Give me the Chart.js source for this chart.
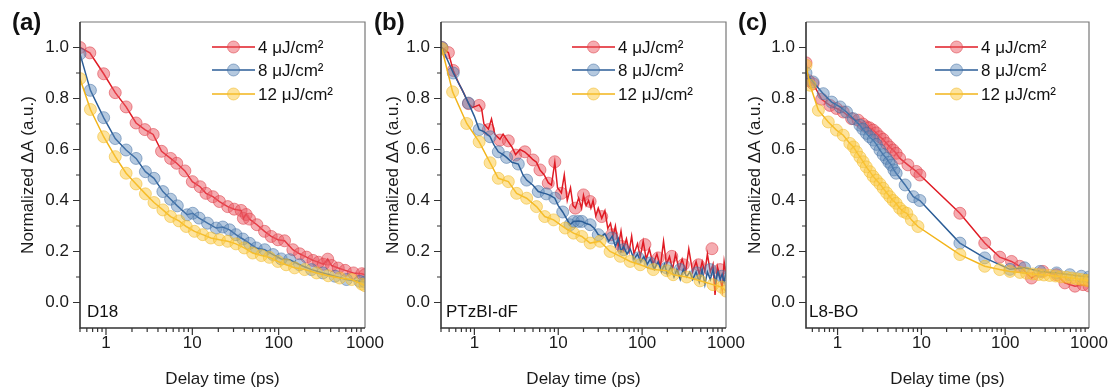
<!DOCTYPE html>
<html>
<head>
<meta charset="utf-8">
<script src="https://cdn.jsdelivr.net/npm/chart.js@4.4.1/dist/chart.umd.min.js"></script>
<style>
  html, body { margin: 0; padding: 0; background: #fff; }
  #wrap { position: relative; width: 1113px; height: 390px; overflow: hidden; }
  #wrap canvas { position: absolute; top: 0; }
</style>
</head>
<body>
<div id="wrap">
  <canvas id="ca" width="400" height="390" style="left:0px"></canvas>
  <canvas id="cb" width="400" height="390" style="left:370px"></canvas>
  <canvas id="cc" width="377" height="390" style="left:736px"></canvas>
</div>
<script>
// series labels + tick values
const LABELS = ['4 μJ/cm²', '8 μJ/cm²', '12 μJ/cm²'];
const X_TICKS = [1, 10, 100, 1000];
const Y_TICKS = [0, 0.2, 0.4, 0.6, 0.8, 1.0];
const Y_MINOR = [0.1, 0.3, 0.5, 0.7, 0.9];

// (a) D18
const a4x = [0.5, 0.65, 0.94, 1.28, 1.71, 2.23, 2.82, 3.52, 4.4, 5.6,
  6.6, 8.2, 10, 12.3, 14.4, 17.3, 20.6, 25.7, 30.6, 36.7,
  39, 42, 46, 56, 68.6, 82, 98, 117, 146, 175,
  210, 250, 290, 330, 370, 410, 490, 590, 735, 920, 1000];
const a4y = [1.0, 0.979, 0.897, 0.823, 0.767, 0.704, 0.678, 0.659, 0.593, 0.565,
  0.546, 0.516, 0.474, 0.454, 0.428, 0.415, 0.396, 0.376, 0.366, 0.361,
  0.33, 0.345, 0.327, 0.305, 0.279, 0.259, 0.246, 0.242, 0.207, 0.191,
  0.178, 0.165, 0.158, 0.15, 0.17, 0.145, 0.135, 0.126, 0.116, 0.113, 0.109];
const a8x = [0.5, 0.66, 0.94, 1.28, 1.71, 2.23, 2.86, 3.6, 4.56, 5.6,
  6.7, 8.7, 10.1, 12.0, 15, 18.9, 22.5, 27, 32, 38.5,
  46, 55, 69, 86, 107, 134, 175, 240, 325, 450,
  610, 870, 1000];
const a8y = [0.975, 0.832, 0.725, 0.643, 0.598, 0.565, 0.513, 0.487, 0.435, 0.405,
  0.379, 0.344, 0.35, 0.331, 0.311, 0.292, 0.296, 0.285, 0.266, 0.249,
  0.232, 0.214, 0.207, 0.188, 0.171, 0.168, 0.148, 0.129, 0.116, 0.103,
  0.09, 0.083, 0.08];
const a12x = [0.5, 0.66, 0.94, 1.28, 1.71, 2.23, 2.86, 3.6, 4.56, 5.6,
  7.0, 8.5, 10.6, 13.2, 16.4, 20.6, 25.7, 32, 40, 50,
  63, 78, 98, 122, 153, 200, 275, 375, 510, 700,
  920, 1000];
const a12y = [0.878, 0.757, 0.65, 0.572, 0.507, 0.465, 0.426, 0.392, 0.363, 0.337,
  0.32, 0.298, 0.279, 0.266, 0.253, 0.246, 0.24, 0.23, 0.214, 0.194,
  0.184, 0.177, 0.161, 0.148, 0.136, 0.129, 0.116, 0.105, 0.096, 0.09,
  0.072, 0.066];

// (b) PTzBI-dF  (markers + raw noisy traces)
const b4x = [0.41, 0.49, 0.56, 0.85, 1.14, 1.47, 2.02, 2.54, 3.1, 4.0,
  5.0, 6.05, 7.6, 9.1, 10.9, 16, 20, 24, 33, 43.5,
  57, 108, 156, 226, 310, 470, 680, 850];
const b4y = [1.0, 0.98, 0.91, 0.78, 0.773, 0.678, 0.637, 0.634, 0.578, 0.591,
  0.559, 0.52, 0.468, 0.552, 0.428, 0.37, 0.422, 0.396, 0.337, 0.266,
  0.22, 0.227, 0.175, 0.181, 0.148, 0.148, 0.211, 0.129];
const b4traceX = [0.41, 0.45, 0.49, 0.56, 0.65, 0.75, 0.85, 0.95, 1.05, 1.14,
  1.22, 1.3, 1.47, 1.6, 1.75, 2.02, 2.2, 2.54, 2.8, 3.1,
  3.5, 4.0, 4.5, 5.0, 5.5, 6.05, 6.8, 7.6, 8.3, 9.1,
  9.8, 10.9, 11.8, 12.8, 14, 15, 16, 17.5, 19, 20,
  21.5, 23, 24.5, 26, 28, 30, 33, 36, 39, 42,
  45, 48, 52, 56, 60, 65, 70, 75, 80, 88,
  95, 103, 112, 122, 135, 150, 165, 180, 195, 212,
  230, 250, 275, 300, 330, 360, 400, 440, 480, 520,
  560, 600, 650, 700, 740, 790, 850, 900, 950, 1000];
const b4traceY = [1.0, 0.99, 0.98, 0.91, 0.86, 0.82, 0.78, 0.765, 0.77, 0.775,
  0.76, 0.70, 0.68, 0.72, 0.66, 0.64, 0.66, 0.63, 0.61, 0.58,
  0.60, 0.59, 0.575, 0.56, 0.55, 0.52, 0.50, 0.47, 0.46, 0.55,
  0.45, 0.43, 0.50, 0.40, 0.45, 0.38, 0.37, 0.41, 0.37, 0.42,
  0.38, 0.40, 0.37, 0.40, 0.34, 0.37, 0.33, 0.36, 0.29, 0.31,
  0.26, 0.30, 0.22, 0.28, 0.21, 0.25, 0.20, 0.26, 0.19, 0.23,
  0.18, 0.24, 0.17, 0.21, 0.15, 0.19, 0.14, 0.24, 0.15, 0.18,
  0.13, 0.19, 0.13, 0.17, 0.12, 0.21, 0.12, 0.16, 0.11, 0.16,
  0.12, 0.19, 0.12, 0.15, 0.03, 0.14, 0.10, 0.05, 0.16, 0.11];
const b8x = [0.41, 0.56, 0.85, 1.14, 1.54, 1.93, 2.42, 3.34, 4.2, 5.78,
  7.2, 9.1, 11.3, 13.8, 15.2, 17.3, 19.1, 24, 30, 43.5,
  60, 90, 124, 196, 283, 450, 645, 890];
const b8y = [1.0, 0.90, 0.782, 0.678, 0.65, 0.591, 0.569, 0.543, 0.48, 0.435,
  0.426, 0.409, 0.355, 0.305, 0.318, 0.318, 0.318, 0.305, 0.266, 0.253,
  0.207, 0.175, 0.155, 0.136, 0.129, 0.116, 0.129, 0.103];
const b8traceX = [0.41, 0.56, 0.7, 0.85, 1.0, 1.14, 1.3, 1.54, 1.7, 1.93,
  2.2, 2.42, 2.8, 3.34, 3.8, 4.2, 5.0, 5.78, 6.5, 7.2,
  8.0, 9.1, 10, 11.3, 12.5, 13.8, 15.2, 17.3, 19.1, 21.5,
  24, 27, 30, 33, 36, 40, 44, 48, 52, 56,
  60, 66, 72, 80, 88, 96, 105, 115, 125, 140,
  155, 170, 185, 200, 220, 240, 260, 285, 310, 340,
  370, 400, 440, 480, 520, 560, 600, 650, 700, 750,
  800, 850, 900, 950, 1000];
const b8traceY = [1.0, 0.90, 0.84, 0.782, 0.73, 0.678, 0.67, 0.65, 0.62, 0.591,
  0.58, 0.569, 0.55, 0.543, 0.50, 0.48, 0.46, 0.435, 0.43, 0.426,
  0.42, 0.409, 0.38, 0.355, 0.33, 0.305, 0.318, 0.32, 0.318, 0.31,
  0.305, 0.29, 0.266, 0.26, 0.27, 0.24, 0.26, 0.22, 0.25, 0.20,
  0.22, 0.19, 0.21, 0.17, 0.19, 0.16, 0.18, 0.15, 0.17, 0.13,
  0.16, 0.12, 0.15, 0.11, 0.14, 0.10, 0.13, 0.09, 0.13, 0.10,
  0.12, 0.09, 0.12, 0.08, 0.13, 0.07, 0.12, 0.09, 0.13, 0.08,
  0.12, 0.09, 0.11, 0.08, 0.12];
const b12x = [0.41, 0.55, 0.81, 1.14, 1.54, 1.93, 2.54, 3.19, 4.2, 5.5,
  6.9, 8.8, 12.1, 15.2, 19.1, 24, 31.5, 41.5, 55, 72,
  95, 136, 196, 235, 340, 490, 700, 890, 1000];
const b12y = [0.995, 0.826, 0.702, 0.63, 0.548, 0.487, 0.474, 0.428, 0.409, 0.376,
  0.337, 0.324, 0.292, 0.272, 0.259, 0.233, 0.24, 0.2, 0.181, 0.161,
  0.148, 0.129, 0.125, 0.109, 0.10, 0.085, 0.07, 0.06, 0.045];

// (c) L8-BO
const c4x = [0.42, 0.45, 0.51, 0.645, 0.81, 0.97, 1.17, 1.47, 1.76, 2.0,
  2.21, 2.4, 2.66, 2.9, 3.2, 3.5, 3.83, 4.2, 4.6, 5.0,
  5.5, 6.9, 8.7, 9.6, 28.8, 57, 86, 119, 149, 206,
  282, 410, 515, 680, 850, 1000];
const c4y = [0.94, 0.87, 0.858, 0.797, 0.773, 0.761, 0.747, 0.721, 0.715, 0.70,
  0.689, 0.685, 0.676, 0.665, 0.65, 0.64, 0.624, 0.61, 0.598, 0.585,
  0.566, 0.54, 0.514, 0.50, 0.35, 0.233, 0.178, 0.161, 0.142, 0.096,
  0.122, 0.109, 0.077, 0.064, 0.07, 0.065];
const c8x = [0.42, 0.51, 0.675, 0.85, 1.07, 1.28, 1.54, 1.85, 2.0, 2.21,
  2.4, 2.66, 2.9, 3.2, 3.5, 3.83, 4.1, 4.4, 4.7, 5.0,
  6.4, 8.0, 9.6, 28.8, 57, 114, 170, 260, 410, 590,
  810, 1000];
const c8y = [0.90, 0.865, 0.819, 0.786, 0.767, 0.747, 0.721, 0.695, 0.68, 0.663,
  0.65, 0.637, 0.62, 0.598, 0.58, 0.565, 0.55, 0.539, 0.52, 0.507,
  0.461, 0.415, 0.40, 0.233, 0.175, 0.13, 0.136, 0.122, 0.116, 0.109,
  0.103, 0.10];
const c12x = [0.42, 0.47, 0.59, 0.775, 0.97, 1.17, 1.4, 1.55, 1.68, 1.85,
  2.02, 2.2, 2.43, 2.65, 2.9, 3.2, 3.5, 3.85, 4.2, 4.6,
  5.0, 5.5, 6.05, 6.7, 7.6, 9.1, 28.8, 57, 86, 114,
  150, 180, 214, 250, 290, 340, 400, 460, 540, 620,
  710, 810, 920, 1000];
const c12y = [0.93, 0.852, 0.754, 0.708, 0.676, 0.656, 0.624, 0.61, 0.591, 0.57,
  0.552, 0.532, 0.513, 0.495, 0.48, 0.465, 0.448, 0.43, 0.415, 0.40,
  0.389, 0.37, 0.357, 0.35, 0.324, 0.298, 0.188, 0.142, 0.129, 0.122,
  0.118, 0.115, 0.112, 0.11, 0.108, 0.106, 0.104, 0.101, 0.099, 0.096,
  0.093, 0.09, 0.087, 0.085];

const FONT = '"Liberation Sans", Arial, sans-serif';
const LINE_COLORS = ['#e01b24', '#2b5d97', '#f2b41a'];
const MARK_FILL = ['rgba(236,90,100,0.5)', 'rgba(90,135,185,0.45)', 'rgba(252,200,60,0.5)'];
const MARK_EDGE = ['rgba(220,60,70,0.55)', 'rgba(60,105,160,0.5)', 'rgba(240,185,40,0.55)'];
const ORDER = [3, 2, 1];

Chart.defaults.font.family = FONT;
Chart.defaults.font.size = 17;
Chart.defaults.color = '#1a1a1a';

const pts = (xs, ys) => xs.map((x, i) => ({ x, y: ys[i] }));

function markers(i, xs, ys, withLine) {
  return {
    label: LABELS[i],
    data: pts(xs, ys),
    showLine: withLine,
    borderColor: LINE_COLORS[i],
    borderWidth: 1.5,
    pointRadius: 6,
    pointBackgroundColor: MARK_FILL[i],
    pointBorderColor: MARK_EDGE[i],
    pointBorderWidth: 1,
    order: ORDER[i]
  };
}
function trace(i, xs, ys) {
  return {
    label: LABELS[i] + ' trace',
    data: pts(xs, ys),
    showLine: true,
    borderColor: LINE_COLORS[i],
    borderWidth: 1.5,
    pointRadius: 0,
    order: ORDER[i]
  };
}

// frame, ticks, legend, labels
const panelDecor = {
  id: 'panelDecor',
  afterDraw(chart, args, o) {
    const { ctx, chartArea: ar, scales: { x, y } } = chart;
    ctx.save();
    ctx.strokeStyle = '#777';
    ctx.lineWidth = 1.2;
    ctx.beginPath();
    ctx.moveTo(ar.left, ar.top); ctx.lineTo(ar.right, ar.top); ctx.lineTo(ar.right, ar.bottom);
    ctx.stroke();
    ctx.strokeStyle = '#333';
    ctx.lineWidth = 1.6;
    ctx.beginPath();
    ctx.moveTo(ar.left, ar.top); ctx.lineTo(ar.left, ar.bottom); ctx.lineTo(ar.right, ar.bottom);
    ctx.stroke();

    ctx.lineWidth = 1.2;
    ctx.beginPath();
    Y_TICKS.forEach(v => { const p = y.getPixelForValue(v); ctx.moveTo(ar.left - 7, p); ctx.lineTo(ar.left, p); });
    Y_MINOR.forEach(v => { const p = y.getPixelForValue(v); ctx.moveTo(ar.left - 4, p); ctx.lineTo(ar.left, p); });
    [0.1, 1, 10, 100].forEach(d => {
      for (let m = 1; m <= 9; m++) {
        const v = m * d;
        if (v < x.min || v > x.max) continue;
        const p = x.getPixelForValue(v);
        const len = m === 1 ? 7 : 4;
        ctx.moveTo(p, ar.bottom); ctx.lineTo(p, ar.bottom + len);
      }
    });
    ctx.stroke();

    // legend
    ctx.textAlign = 'left';
    ctx.textBaseline = 'middle';
    LABELS.forEach((lab, i) => {
      const ly = o.legendRows[i];
      ctx.strokeStyle = LINE_COLORS[i];
      ctx.lineWidth = 1.6;
      ctx.beginPath(); ctx.moveTo(o.legendX, ly); ctx.lineTo(o.legendX + 43, ly); ctx.stroke();
      ctx.beginPath(); ctx.arc(o.legendX + 21.5, ly, 6, 0, Math.PI * 2);
      ctx.fillStyle = MARK_FILL[i]; ctx.fill();
      ctx.strokeStyle = MARK_EDGE[i]; ctx.lineWidth = 1; ctx.stroke();
      ctx.fillStyle = '#111';
      ctx.font = '17px ' + FONT;
      ctx.fillText(lab, o.legendX + 46, ly + 1);
    });

    ctx.fillStyle = '#111';
    ctx.font = 'bold 24px ' + FONT;
    ctx.fillText(o.letter, o.letterX, 23);
    ctx.font = '17px ' + FONT;
    ctx.fillText(o.sample, o.sampleX, 312);
    ctx.restore();
  }
};

function makePanel(canvasId, p) {
  new Chart(document.getElementById(canvasId), {
    type: 'scatter',
    data: { datasets: p.datasets },
    options: {
      responsive: false,
      animation: false,
      layout: { padding: { left: 0, top: 22, right: p.padRight, bottom: 0 } },
      plugins: {
        legend: { display: false },
        tooltip: { enabled: false },
        panelDecor: { legendX: p.legendX, legendRows: [47, 70, 94], letter: p.letter, letterX: p.letterX, sample: p.sample, sampleX: p.sampleX }
      },
      scales: {
        x: {
          type: 'logarithmic',
          min: p.xmin,
          max: 1000,
          grid: { display: false, drawTicks: false },
          border: { display: false },
          afterBuildTicks: s => { s.ticks = X_TICKS.map(v => ({ value: v })); },
          afterFit: s => { s.height = 62; },
          ticks: { padding: 5, maxRotation: 0, autoSkip: false, callback: v => String(v) },
          title: { display: true, text: 'Delay time (ps)', padding: { top: 0, bottom: 0 } }
        },
        y: {
          min: -0.1,
          max: 1.1,
          grid: { display: false, drawTicks: false },
          border: { display: false },
          afterBuildTicks: s => { s.ticks = Y_TICKS.map(v => ({ value: v })); },
          afterFit: s => { s.width = p.yWidth; },
          ticks: { padding: 11, callback: v => v.toFixed(1) },
          title: { display: true, text: 'Normalized ΔA (a.u.)', padding: { top: p.yTitlePad, bottom: 0 } }
        }
      }
    },
    plugins: [panelDecor]
  });
}

makePanel('ca', {
  xmin: 0.5, padRight: 35, yWidth: 80, yTitlePad: 18,
  legendX: 212, letter: '(a)', letterX: 12, sample: 'D18', sampleX: 87,
  datasets: [markers(0, a4x, a4y, true), markers(1, a8x, a8y, true), markers(2, a12x, a12y, true)]
});
makePanel('cb', {
  xmin: 0.4, padRight: 44, yWidth: 71, yTitlePad: 13,
  legendX: 202, letter: '(b)', letterX: 4, sample: 'PTzBI-dF', sampleX: 76,
  datasets: [trace(0, b4traceX, b4traceY), markers(0, b4x, b4y, false),
    trace(1, b8traceX, b8traceY), markers(1, b8x, b8y, false),
    markers(2, b12x, b12y, true)]
});
makePanel('cc', {
  xmin: 0.42, padRight: 24, yWidth: 70, yTitlePad: 9,
  legendX: 199, letter: '(c)', letterX: 2, sample: 'L8-BO', sampleX: 73,
  datasets: [markers(0, c4x, c4y, true), markers(1, c8x, c8y, true), markers(2, c12x, c12y, true)]
});
</script>
</body>
</html>
